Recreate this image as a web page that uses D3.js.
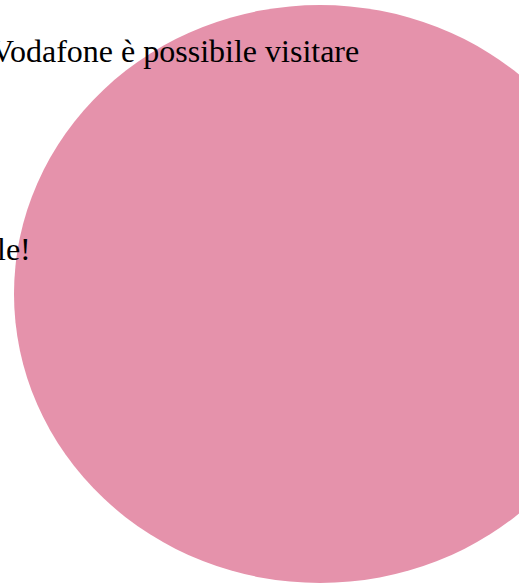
<!DOCTYPE html>
<html>
<head>
<meta charset="utf-8">
<script src="https://cdn.jsdelivr.net/npm/d3@7"></script>
<style>
  html, body { margin: 0; padding: 0; background: #fff; overflow: hidden; }
  .caption { font-family: "Liberation Serif", "Times New Roman", serif; font-size: 32px; fill: #000; }
</style>
</head>
<body>
<div class="chart"></div>
<script>
// data
const categories = ['Vodafone'];
const values = [100];
const captionLines = ['Vodafone è possibile visitare', 'le!'];

const width = 519;
const height = 585;

const svg = d3.select('.chart').append('svg')
  .attr('width', width)
  .attr('height', height);

// the bubble is stretched a little wider than tall
var r = d3.scaleSqrt().domain([0, d3.max(values)]).range([0, 1]);
var x = d3.scaleLinear().domain([-1, 1]).range([14, 626]);
var y = d3.scaleLinear().domain([-1, 1]).range([5, 583]);

svg.selectAll('.bubble')
  .data(values)
  .enter().append('ellipse')
  .attr('class', 'bubble')
  .attr('cx', x(0))
  .attr('cy', y(0))
  .attr('rx', d => x(r(d)) - x(0))
  .attr('ry', d => y(r(d)) - y(0))
  .style('fill', '#e592ab')
  .append('title')
  .text((d, i) => categories[i]);

// caption text sits on top, partly off the left edge
var lineY = d3.scaleLinear().domain([0, 1]).range([62, 260]);

svg.selectAll('.caption')
  .data(captionLines)
  .enter().append('text')
  .attr('class', 'caption')
  .attr('x', (d, i) => i === 0 ? -9 : -3)
  .attr('y', (d, i) => lineY(i))
  .text(d => d);
</script>
</body>
</html>
